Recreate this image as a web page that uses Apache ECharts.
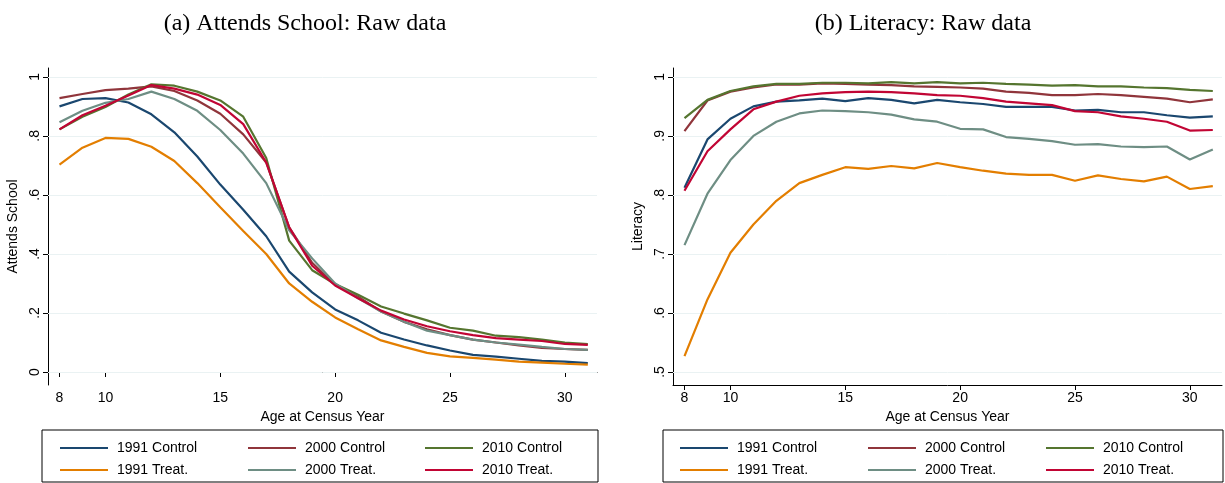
<!DOCTYPE html>
<html><head><meta charset="utf-8">
<script src="https://cdn.jsdelivr.net/npm/echarts@6/dist/echarts.min.js"></script>
<style>html,body{margin:0;background:#fff}#c{width:1225px;height:483px}</style>
</head><body><div id="c"></div>
<script>
// ages 8..31
var ages = [];
for (var a = 8; a <= 31; a++) ages.push(a);

var xTicks = [8, 10, 15, 20, 25, 30];
var schoolTicks = [0, 0.2, 0.4, 0.6, 0.8, 1];
var litTicks = [0.5, 0.6, 0.7, 0.8, 0.9, 1];

var names = ['1991 Control', '2000 Control', '2010 Control', '1991 Treat.', '2000 Treat.', '2010 Treat.'];
var colors = ['#1a476f', '#90353b', '#55752f', '#e37e00', '#6e8e84', '#c10534'];

// attends school
var school1991C = [.90,.925,.928,.913,.873,.812,.73,.635,.55,.46,.34,.27,.212,.175,.133,.11,.09,.073,.058,.052,.045,.038,.035,.03];
var school2000C = [.928,.942,.955,.96,.968,.952,.92,.875,.805,.71,.49,.37,.295,.255,.205,.17,.145,.125,.11,.10,.09,.082,.078,.075];
var school2010C = [.822,.865,.898,.94,.975,.97,.95,.92,.865,.725,.445,.345,.298,.262,.222,.198,.175,.15,.14,.123,.118,.11,.10,.095];
var school1991T = [.703,.76,.793,.79,.763,.715,.64,.558,.478,.40,.30,.238,.185,.145,.107,.085,.065,.053,.048,.042,.035,.032,.028,.025];
var school2000T = [.846,.885,.912,.925,.95,.925,.885,.82,.74,.64,.48,.385,.30,.25,.205,.17,.14,.125,.11,.10,.093,.085,.078,.075];
var school2010T = [.822,.87,.902,.937,.972,.96,.94,.905,.84,.71,.49,.36,.293,.25,.208,.178,.155,.138,.125,.115,.11,.105,.095,.092];

// literacy
var lit1991C = [.812,.894,.929,.95,.958,.96,.963,.959,.964,.961,.955,.961,.957,.954,.949,.949,.949,.943,.944,.94,.94,.935,.931,.933];
var lit2000C = [.908,.96,.975,.982,.987,.987,.989,.988,.987,.986,.984,.983,.982,.98,.975,.973,.969,.969,.971,.969,.966,.963,.957,.962];
var lit2010C = [.93,.961,.976,.984,.988,.988,.99,.99,.989,.991,.989,.991,.989,.99,.988,.987,.985,.986,.984,.984,.982,.981,.978,.976];
var lit1991T = [.527,.623,.702,.75,.79,.82,.834,.847,.844,.849,.845,.854,.847,.841,.836,.834,.834,.824,.833,.827,.823,.831,.81,.815];
var lit2000T = [.715,.802,.859,.90,.924,.938,.943,.942,.94,.936,.928,.924,.912,.911,.898,.895,.891,.885,.886,.882,.881,.882,.86,.877];
var lit2010T = [.807,.874,.911,.945,.958,.968,.972,.974,.975,.974,.972,.969,.968,.964,.958,.955,.952,.942,.94,.933,.929,.924,.909,.91];

var schoolData = [school1991C, school2000C, school2010C, school1991T, school2000T, school2010T];
var litData = [lit1991C, lit2000C, lit2010C, lit1991T, lit2000T, lit2010T];

var font = 'Liberation Sans, Arial, sans-serif';

function fmt(v) {
  var s = String(Math.round(v * 10) / 10);
  return s.replace(/^0\./, '.');
}

function xAxis(i) {
  return {
    type: 'value', gridIndex: i, min: 7.5, max: 31.4,
    name: 'Age at Census Year', nameLocation: 'middle', nameGap: 22,
    nameTextStyle: { fontFamily: font, fontSize: 14, color: '#000' },
    axisLine: { lineStyle: { color: '#000', width: 1 } },
    axisTick: { customValues: xTicks, length: 5, lineStyle: { color: '#000' } },
    axisLabel: { customValues: xTicks, fontFamily: font, fontSize: 14, color: '#000', margin: 6 },
    splitLine: { show: false }
  };
}

function yAxis(i, min, max, ticks, title) {
  return {
    type: 'value', gridIndex: i, min: min, max: max,
    name: title, nameLocation: 'middle', nameGap: 28,
    nameTextStyle: { fontFamily: font, fontSize: 14, color: '#000' },
    axisLine: { show: true, lineStyle: { color: '#000', width: 1 } },
    axisTick: { show: true, customValues: ticks, length: 5, lineStyle: { color: '#000' } },
    axisLabel: { customValues: ticks, rotate: 90, fontFamily: font, fontSize: 14, color: '#000', margin: 6, formatter: fmt },
    splitLine: { show: false }
  };
}

var series = [];
function addSeries(data, gi, ticks) {
  data.forEach(function (vals, k) {
    var s = {
      name: names[k], type: 'line', xAxisIndex: gi, yAxisIndex: gi,
      data: ages.map(function (a, j) { return [a, vals[j]]; }),
      showSymbol: false, color: colors[k],
      lineStyle: { width: 2.2, color: colors[k] }, z: 3 + k
    };
    if (k === 0) {
      s.markLine = {
        silent: true, symbol: 'none', label: { show: false },
        lineStyle: { color: '#eaf2f3', width: 1, type: 'solid' },
        data: ticks.map(function (t) { return { yAxis: t }; }), z: 1
      };
    }
    series.push(s);
  });
}
addSeries(schoolData, 0, schoolTicks);
addSeries(litData, 1, litTicks);

var legends = [];
var cols = [[55, 243, 420], [675, 863, 1041]];
[0, 1].forEach(function (g) {
  names.forEach(function (n, k) {
    legends.push({
      data: [n], left: cols[g][k % 3], top: k < 3 ? 436 : 458,
      itemWidth: 48, itemHeight: 14, itemGap: 0,
      icon: 'path://M0,6 L48,6 L48,8 L0,8 Z',
      textStyle: { fontFamily: font, fontSize: 14, color: '#000', padding: [0, 0, 0, 4] },
      selectedMode: false
    });
  });
});

var chart = echarts.init(document.getElementById('c'));
chart.setOption({
  animation: false,
  title: [
    { text: '(a) Attends School: Raw data', left: 300, textAlign: 'center', top: 7,
      textStyle: { fontFamily: 'Liberation Serif, serif', fontSize: 24, fontWeight: 'normal', color: '#000' } },
    { text: '(b) Literacy: Raw data', left: 918, textAlign: 'center', top: 7,
      textStyle: { fontFamily: 'Liberation Serif, serif', fontSize: 24, fontWeight: 'normal', color: '#000' } }
  ],
  graphic: [
    { type: 'rect', shape: { x: 42, y: 430, width: 556, height: 52 }, style: { fill: 'none', stroke: '#000', lineWidth: 1 } },
    { type: 'rect', shape: { x: 663, y: 430, width: 560, height: 52 }, style: { fill: 'none', stroke: '#000', lineWidth: 1 } }
  ],
  legend: legends,
  grid: [
    { left: 48, right: 628, top: 68, bottom: 98 },
    { left: 673, right: 3, top: 68, bottom: 98 }
  ],
  xAxis: [xAxis(0), xAxis(1)],
  yAxis: [
    yAxis(0, -0.044, 1.03, schoolTicks, 'Attends School'),
    yAxis(1, 0.478, 1.015, litTicks, 'Literacy')
  ],
  series: series
});
</script></body></html>
